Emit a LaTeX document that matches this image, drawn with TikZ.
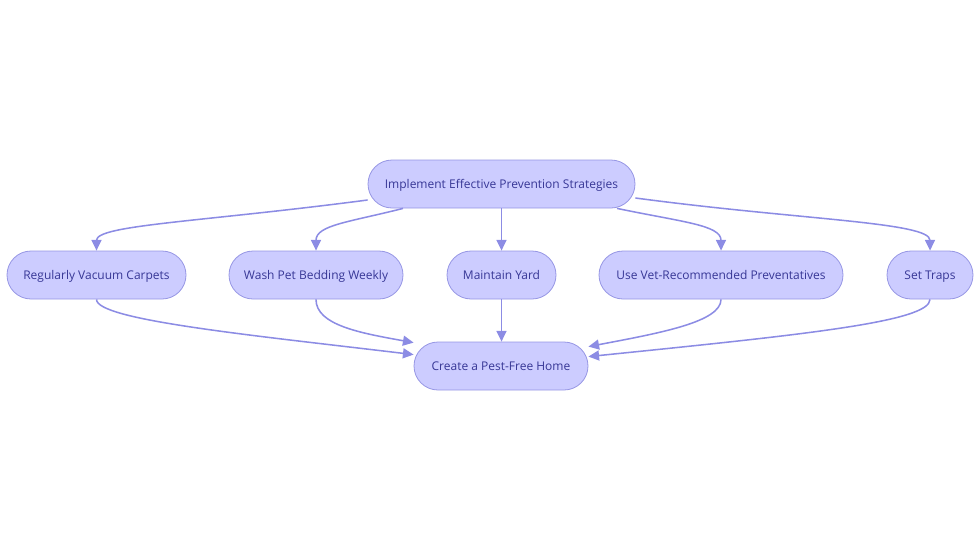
\documentclass[tikz,border=0pt]{standalone}
\usepackage{fontspec}
\setmainfont{Open Sans}
\usepackage{tikz}
\usetikzlibrary{arrows.meta,calc}
\definecolor{boxfill}{RGB}{204,204,255}
\definecolor{boxline}{RGB}{150,150,228}
\definecolor{edgeclr}{RGB}{140,140,228}
\definecolor{txtclr}{RGB}{55,55,150}
\tikzset{
  box/.style={rectangle, rounded corners=18pt, fill=boxfill, draw=boxline, line width=0.6pt,
    minimum height=36pt, inner sep=2pt, text height=8pt, text depth=1.8pt,
    text=txtclr, font=\fontsize{9}{11}\selectfont},
  ln/.style={draw=edgeclr, line width=1.15pt, -{Triangle[length=8pt,width=7.5pt]}},
  flowchart/.style={x=0.75pt, y=-0.75pt}
}
\begin{document}
\begin{tikzpicture}[flowchart]
  \useasboundingbox (0,0) rectangle (980,553);
  \node[box, minimum width=200.25pt] (top) at (501.5,184) {Implement Effective Prevention Strategies};
  \node[box, minimum width=134.25pt] (vac) at (96.5,275) {Regularly Vacuum Carpets};
  \node[box, minimum width=130.5pt] (wash) at (316,275) {Wash Pet Bedding Weekly};
  \node[box, minimum width=81.75pt] (yard) at (501.5,275) {Maintain Yard};
  \node[box, minimum width=183pt] (vet) at (721,275) {Use Vet-Recommended Preventatives};
  \node[box, minimum width=64.5pt] (traps) at (930,275) {Set Traps};
  \node[box, minimum width=130.5pt] (home) at (501,366) {Create a Pest-Free Home};
  \draw[ln] ($(top.west)+(0,16)$) .. controls (200,222) and (96.5,225) .. (vac.north);
  \draw[ln] ($(top.south)+(-98.5,0)$) .. controls (350,222) and (316,225) .. (wash.north);
  \draw[ln] (top.south) -- (yard.north);
  \draw[ln] ($(top.south)+(115.5,0)$) .. controls (682,222) and (721,225) .. (vet.north);
  \draw[ln] ($(top.east)+(0,14)$) .. controls (800,220) and (930,222) .. (traps.north);
  \draw[ln] (vac.south) .. controls (96.5,320) and (250,335) .. ($(home.north west)+(0,13)$);
  \draw[ln] (wash.south) .. controls (316,325) and (360,333) .. ($(home.north west)+(0,1)$);
  \draw[ln] (yard.south) -- (home.north -| yard.south);
  \draw[ln] (vet.south) .. controls (721,322) and (660,333) .. ($(home.north east)+(0,5)$);
  \draw[ln] (traps.south) .. controls (930,322) and (800,335) .. ($(home.north east)+(0,15)$);
\end{tikzpicture}
\end{document}
